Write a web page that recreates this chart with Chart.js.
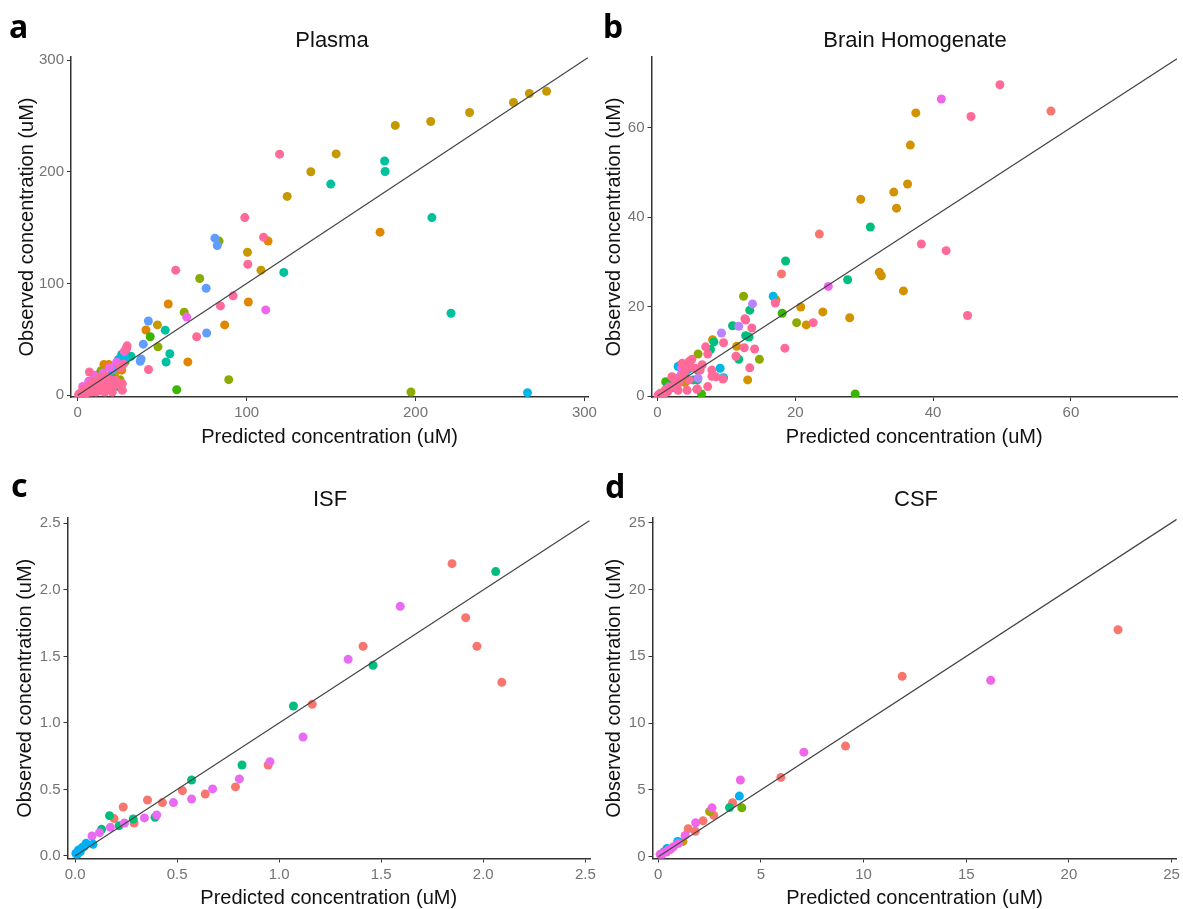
<!DOCTYPE html>
<html>
<head>
<meta charset="utf-8">
<script src="https://cdn.jsdelivr.net/npm/chart.js@4.4.1/dist/chart.umd.min.js"></script>
<style>
  body { margin: 0; background: #fff; }
  #page { position: relative; width: 1183px; height: 909px; overflow: hidden; }
  canvas { position: absolute; }
  .letter { position: absolute; font: bold 32px "Noto Sans", "DejaVu Sans", sans-serif; line-height: 1; color: #000; }
  .title { position: absolute; font: 22px "Liberation Sans", Arial, sans-serif; line-height: 1; color: #111; transform: translateX(-50%); white-space: nowrap; }
</style>
</head>
<body>
<div id="page">
  <canvas id="plasma"></canvas>
  <canvas id="brain"></canvas>
  <canvas id="isf"></canvas>
  <canvas id="csf"></canvas>
  <div class="letter" style="left:9px;top:10px">a</div>
  <div class="letter" style="left:603px;top:10px">b</div>
  <div class="letter" style="left:11px;top:469px">c</div>
  <div class="letter" style="left:605px;top:470px">d</div>
  <div class="title" style="left:332px;top:29px">Plasma</div>
  <div class="title" style="left:915px;top:29px">Brain Homogenate</div>
  <div class="title" style="left:330px;top:488px">ISF</div>
  <div class="title" style="left:916px;top:488px">CSF</div>
</div>
<script>
'use strict';

// ---- data (predicted, observed) per colour group ----
const plasmaTicks = [0, 100, 200, 300];
const plasmaLine = [0, 302];
const plasmaGold = [[277.6,272],[267.4,270],[258,262],[232,253],[209,245],[188,241.5],[153,216],[138,200],[124,178],[100.5,128],[108.5,112],[47.2,63],[18,26],[14,22],[22,20],[9,10],[4,5]];
const plasmaOrange = [[179,146],[101,83.5],[53.6,81.7],[87,63],[65.2,29.9],[40.4,58.4],[112.7,138],[15.5,27.6],[18.4,27.5],[26,22.5],[20,18],[11,9],[6,3]];
const plasmaPink = [[119.5,215.8],[98.9,159],[110,141.5],[100.7,117.3],[58,112],[92,89],[84.5,80],[70.4,52.4],[41.9,23.1],[29.2,44.3],[28.4,41],[26.4,4.5],[26.4,10.5],[6.9,20.9],[8.8,12],[16.6,10.5],[20.5,7.5],[12.7,6],[4.9,4.5],[1,1.5],[3,3],[10.7,3],[20.5,3],[22.5,13.5],[2,1],[5,2],[7,5],[9,7],[12,9],[14,4],[16,3],[18,6],[24,10],[19,14],[15,12],[6,8],[3,5],[0.5,0.5],[11,13],[13,16],[25,25],[27,28],[23,12],[8,3],[17,17]];
const plasmaTeal = [[181.7,209.6],[182,200.3],[149.8,189],[209.7,159],[221,73.4],[122,110],[51.8,58.3],[54.5,37.2],[52.3,29.8],[26,36.6],[31.5,35],[25,7],[12,15]];
const plasmaCyan = [[266.3,2.4],[13.7,15],[24,32],[28,33],[8,9],[18,17]];
const plasmaBlue = [[81.2,140.6],[82.6,134],[76,95.8],[76.3,55.8],[41.8,66.5],[38.8,45.8],[37.5,32.6],[37,30.5],[20.5,22.5],[15,13],[5,6]];
const plasmaOlive = [[83.7,138],[72.2,104.5],[63,74.4],[47.5,43.4],[89.4,14],[197.3,3],[13.7,21.8],[16.2,14.1],[14,19.8],[10,16],[22,24],[25,14],[12,11]];
const plasmaGreen = [[42.9,52.4],[58.6,5],[12,18],[28,30],[20,16]];
const plasmaMagenta = [[111.3,76.4],[64.5,70],[27.6,39.2],[23,29.5],[9.8,18],[6.5,12.6],[29,42],[15,20],[3,8],[19,25]];

const brainTicks = [0, 20, 40, 60];
const brainLine = [0, 75.4];
const brainSalmon = [[57.1,63.7],[23.5,36.2],[18,27.3]];
const brainPink = [[49.7,69.6],[45.5,62.5],[38.3,34],[41.9,32.5],[45,18],[22.6,16.4],[17.1,20.8],[12.7,17.3],[13.7,15.2],[12.6,10.8],[9.6,11.9],[14.1,10.5],[18.5,10.7],[11.4,8.9],[13.4,6.3],[7.9,4.4],[7.3,2.1],[5.8,1.6],[7,11],[7.3,9.4],[5,8.2],[4.6,7.7],[3.6,7.3],[5.5,6.2],[6.2,5.8],[7.9,5.8],[8.5,4.3],[4.6,3.6],[5.7,1.5],[4.3,1.3],[3,1.3],[1.1,1.3],[3,2.8],[2.6,3.6],[2.1,4.3],[0.4,0.6],[0.1,0.2],[1.5,1],[2,2],[3.5,4.5],[4,5.5],[2.5,2],[1,0.5],[6.5,7],[4.8,6.5],[3.2,3.5],[9.5,3.8],[12.8,17]];
const brainGold = [[37.5,63.3],[36.7,56.1],[36.3,47.4],[34.3,45.6],[34.7,42],[29.5,44],[32.2,27.7],[32.5,26.9],[35.7,23.5],[20.8,19.9],[24,18.8],[21.6,15.9],[27.9,17.5],[11.5,11.1],[13.1,3.6],[8,12.6],[17.2,21.5],[3.3,6.9],[2,2.5],[4,3]];
const brainOlive = [[12.5,22.3],[20.2,16.4],[14.8,8.2],[5.9,9.4],[3,4],[1,0.8]];
const brainGreen = [[28.7,0.45],[6.4,0.45],[18.1,18.5],[1.2,3.2]];
const brainTeal = [[30.9,37.8],[18.6,30.2],[27.6,26],[13.4,19.2],[10.9,15.7],[12.8,13.5],[13.3,13.2],[8.2,12.1],[11.8,8.2],[7.7,10.4],[5.8,3.6],[5.9,5.7],[5.2,3.6],[4,5],[2.5,3],[1.5,2]];
const brainCyan = [[16.8,22.3],[9.1,6.2],[9.6,4.1],[3,6.6],[4.5,6],[2,1.8]];
const brainPurple = [[13.8,20.6],[11.8,15.6],[9.3,14.1],[5.9,4],[3.5,5]];
const brainMagenta = [[41.2,66.4],[24.8,24.5],[4.7,7.7],[3.5,6.2],[1.6,2],[2.8,4]];

const isfTicks = [0, 0.5, 1, 1.5, 2, 2.5];
const isfLine = [0, 2.52];
const isfSalmon = [[1.847,2.197],[1.914,1.791],[1.411,1.576],[1.969,1.576],[2.091,1.305],[1.162,1.14],[0.946,0.684],[0.786,0.519],[0.638,0.466],[0.526,0.491],[0.428,0.401],[0.355,0.421],[0.289,0.248],[0.236,0.368],[0.191,0.281]];
const isfGreen = [[2.061,2.137],[1.46,1.433],[1.07,1.127],[0.818,0.684],[0.571,0.571],[0.392,0.291],[0.285,0.278],[0.169,0.303],[0.216,0.228],[0.13,0.2]];
const isfMagenta = [[1.593,1.876],[1.338,1.478],[1.117,0.894],[0.955,0.709],[0.805,0.579],[0.674,0.504],[0.571,0.428],[0.482,0.401],[0.4,0.308],[0.34,0.286],[0.242,0.248],[0.173,0.215],[0.12,0.175],[0.083,0.15]];
const isfBlue = [[0.088,0.088],[0.054,0.095],[0.036,0.065],[0.017,0.045],[0.004,0.02],[0.026,0.033],[0.045,0.07],[0.01,0.01]];

const csfTicks = [0, 5, 10, 15, 20, 25];
const csfLine = [0, 25.25];
const csfSalmon = [[22.39,16.99],[11.88,13.5],[9.12,8.28],[5.97,5.94],[3.62,4.04],[2.7,3.1],[2.18,2.69],[1.46,2.1],[1.8,1.9]];
const csfMagenta = [[16.19,13.2],[7.09,7.83],[4.0,5.74],[2.62,3.66],[1.82,2.54],[1.31,1.6],[0.98,1.0],[0.74,0.75],[0.5,0.5],[0.25,0.3],[0.09,0.18],[0.6,0.55],[0.4,0.35],[0.15,0.1]];
const csfCyan = [[3.95,4.54],[0.95,1.15],[0.43,0.62],[0.3,0.4]];
const csfGreen = [[3.47,3.68]];
const csfOlive = [[2.5,3.38]];
const csfLime = [[4.07,3.66]];
const csfOrange = [[1.2,1.15]];

// ---- colours ----
const col = {
  pink: '#FF6A98', gold: '#C49A00', orange: '#E08600', teal: '#00C19F', cyan: '#00B8E5',
  blue: '#619CFF', olive: '#8CAB00', green: '#39B600', magenta: '#F066EA', salmon: '#F8766D',
  purple: '#B983FF', mint: '#00BF7D', sky: '#00B0F6', violet: '#E76BF3', mustard: '#A3A500',
  amber: '#D39200', lime: '#6BB100'
};

Chart.defaults.font.family = '"Liberation Sans", Arial, sans-serif';

function axis(min, max, ticks, title, titlePad, size, decimals, horizontal) {
  return {
    type: 'linear',
    min: min,
    max: max,
    afterBuildTicks: s => { s.ticks = ticks.map(v => ({ value: v })); },
    afterFit: s => { if (horizontal) s.height = size; else s.width = size; },
    ticks: { color: '#737373', font: { size: 15 }, padding: 3, callback: v => Number(v).toFixed(decimals) },
    grid: { display: true, drawOnChartArea: false, drawTicks: true, tickLength: 4, tickColor: '#333', tickWidth: 1 },
    border: { display: true, color: '#333', width: 1.5 },
    title: {
      display: true, text: title, color: '#111',
      font: { size: 20, lineHeight: 1.2 },
      padding: horizontal ? { top: 0, bottom: titlePad } : { top: titlePad, bottom: 0 }
    }
  };
}

function makePanel(p) {
  const cv = document.getElementById(p.id);
  cv.width = p.box.width; cv.height = p.box.height;
  cv.style.left = p.box.left + 'px'; cv.style.top = p.box.top + 'px';

  const half = 20 * 1.2 / 2;
  const yAxisW = p.area.left - p.box.left;
  const xAxisH = p.box.top + p.box.height - p.area.bottom;
  const yPad = p.yTitleX - p.box.left - half;
  const xPad = p.box.top + p.box.height - p.xTitleY - half;

  const datasets = [{
    type: 'line',
    data: [{ x: p.line[0], y: p.line[0] }, { x: p.line[1], y: p.line[1] }],
    borderColor: '#444', borderWidth: 1.2, pointRadius: 0, fill: false
  }];
  p.groups.forEach(g => {
    datasets.push({
      data: g[0].map(d => ({ x: d[0], y: d[1] })),
      backgroundColor: g[1], borderColor: g[1], borderWidth: 0,
      pointRadius: 4.5, pointHoverRadius: 4.5, pointBorderWidth: 0
    });
  });

  new Chart(cv.getContext('2d'), {
    type: 'scatter',
    data: { datasets: datasets },
    options: {
      animation: false,
      responsive: false,
      devicePixelRatio: 1,
      layout: { padding: { left: 0, top: p.area.top - p.box.top, right: p.box.left + p.box.width - p.area.right, bottom: 0 } },
      plugins: { legend: { display: false }, tooltip: { enabled: false } },
      scales: {
        x: axis(p.x[0], p.x[1], p.ticks, 'Predicted concentration (uM)', xPad, xAxisH, p.dec, true),
        y: axis(p.y[0], p.y[1], p.ticks, 'Observed concentration (uM)', yPad, yAxisW, p.dec, false)
      }
    }
  });
}

makePanel({
  id: 'plasma', box: { left: 0, top: 45, width: 600, height: 405 },
  area: { left: 71, right: 590, top: 57, bottom: 397 }, yTitleX: 27, xTitleY: 437,
  x: [-4, 302.2], y: [-1.5, 302.7], ticks: plasmaTicks, line: plasmaLine, dec: 0,
  groups: [[plasmaPink, col.pink], [plasmaMagenta, col.magenta], [plasmaCyan, col.cyan], [plasmaTeal, col.teal],
           [plasmaBlue, col.blue], [plasmaGreen, col.green], [plasmaOlive, col.olive], [plasmaOrange, col.orange], [plasmaGold, col.gold]]
});

makePanel({
  id: 'brain', box: { left: 592, top: 45, width: 591, height: 405 },
  area: { left: 651.5, right: 1177, top: 57, bottom: 397 }, yTitleX: 614, xTitleY: 437,
  x: [-0.86, 75.4], y: [-0.22, 75.8], ticks: brainTicks, line: brainLine, dec: 0,
  groups: [[brainPink, col.pink], [brainMagenta, col.magenta], [brainPurple, col.purple], [brainCyan, col.cyan],
           [brainTeal, col.mint], [brainGreen, col.green], [brainOlive, col.olive], [brainGold, col.amber], [brainSalmon, col.salmon]]
});

makePanel({
  id: 'isf', box: { left: 0, top: 505, width: 600, height: 404 },
  area: { left: 67.5, right: 590, top: 518, bottom: 858.5 }, yTitleX: 25, xTitleY: 898,
  x: [-0.037, 2.523], y: [-0.019, 2.54], ticks: isfTicks, line: isfLine, dec: 1,
  groups: [[isfBlue, col.sky], [isfMagenta, col.violet], [isfGreen, col.mint], [isfSalmon, col.salmon]]
});

makePanel({
  id: 'csf', box: { left: 592, top: 505, width: 591, height: 404 },
  area: { left: 652.5, right: 1178, top: 518, bottom: 858.5 }, yTitleX: 614, xTitleY: 898,
  x: [-0.28, 25.25], y: [-0.13, 25.35], ticks: csfTicks, line: csfLine, dec: 0,
  groups: [[csfMagenta, col.magenta], [csfCyan, col.sky], [csfGreen, col.mint], [csfLime, col.lime],
           [csfOlive, col.mustard], [csfOrange, col.amber], [csfSalmon, col.salmon]]
});
</script>
</body>
</html>
